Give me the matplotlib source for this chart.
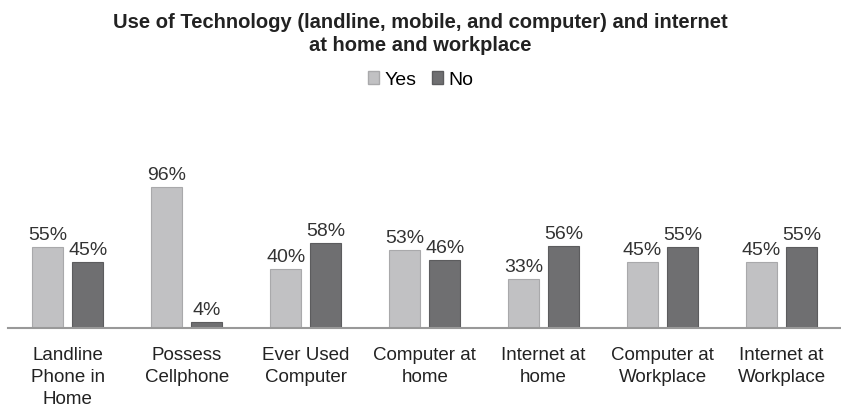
import matplotlib
matplotlib.use("Agg")
import matplotlib.pyplot as plt
import numpy as np
from matplotlib.patches import Patch

categories = ["Landline\nPhone in\nHome", "Possess\nCellphone", "Ever Used\nComputer",
              "Computer at\nhome", "Internet at\nhome", "Computer at\nWorkplace",
              "Internet at\nWorkplace"]
yes_vals = [55, 96, 40, 53, 33, 45, 45]
no_vals = [45, 4, 58, 46, 56, 55, 55]

plt.rcParams['font.family'] = ['Liberation Sans', 'DejaVu Sans']

fig = plt.figure(figsize=(8.41, 4.16), dpi=100)
ax = fig.add_axes([0.01, 1 - 328 / 416, 0.99, (328 - 110) / 416])

x = np.arange(len(categories))
w = 0.26
off = 0.168
yes_col = "#c1c1c3"
no_col = "#6f6f71"
ax.bar(x - off, yes_vals, w, color=yes_col, edgecolor="#a9a9ab", linewidth=0.8)
ax.bar(x + off, no_vals, w, color=no_col, edgecolor="#5c5c5e", linewidth=0.8)

for xi, v in zip(x, yes_vals):
    ax.text(xi - off, v + 2, f"{v}%", ha="center", va="bottom", fontsize=14, color="#333333")
for xi, v in zip(x, no_vals):
    ax.text(xi + off, v + 2, f"{v}%", ha="center", va="bottom", fontsize=14, color="#333333")

ax.set_xlim(-0.5, len(categories) - 0.5)
ax.set_ylim(0, 148)
ax.set_yticks([])
ax.set_xticks(x)
ax.set_xticklabels(categories, fontsize=13.5, color="#222222", linespacing=1.38)
ax.tick_params(axis="x", length=0, pad=14)
for s in ["top", "right", "left"]:
    ax.spines[s].set_visible(False)
ax.spines["bottom"].set_color("#999999")
ax.spines["bottom"].set_linewidth(1.5)

fig.text(0.5, 1 - 34 / 416, "Use of Technology (landline, mobile, and computer) and internet\nat home and workplace",
         ha="center", va="center", fontsize=14.5, fontweight="bold", color="#222222",
         linespacing=1.25)
fig.legend(handles=[Patch(facecolor=yes_col, edgecolor="#a9a9ab", label="Yes"),
                    Patch(facecolor=no_col, edgecolor="#5c5c5e", label="No")],
           loc="center", bbox_to_anchor=(0.5, 1 - 80 / 416), ncol=2, frameon=False,
           fontsize=14, handlelength=0.6, handleheight=0.6, handletextpad=0.25,
           columnspacing=0.8)

fig.savefig("out.png", dpi=100)
